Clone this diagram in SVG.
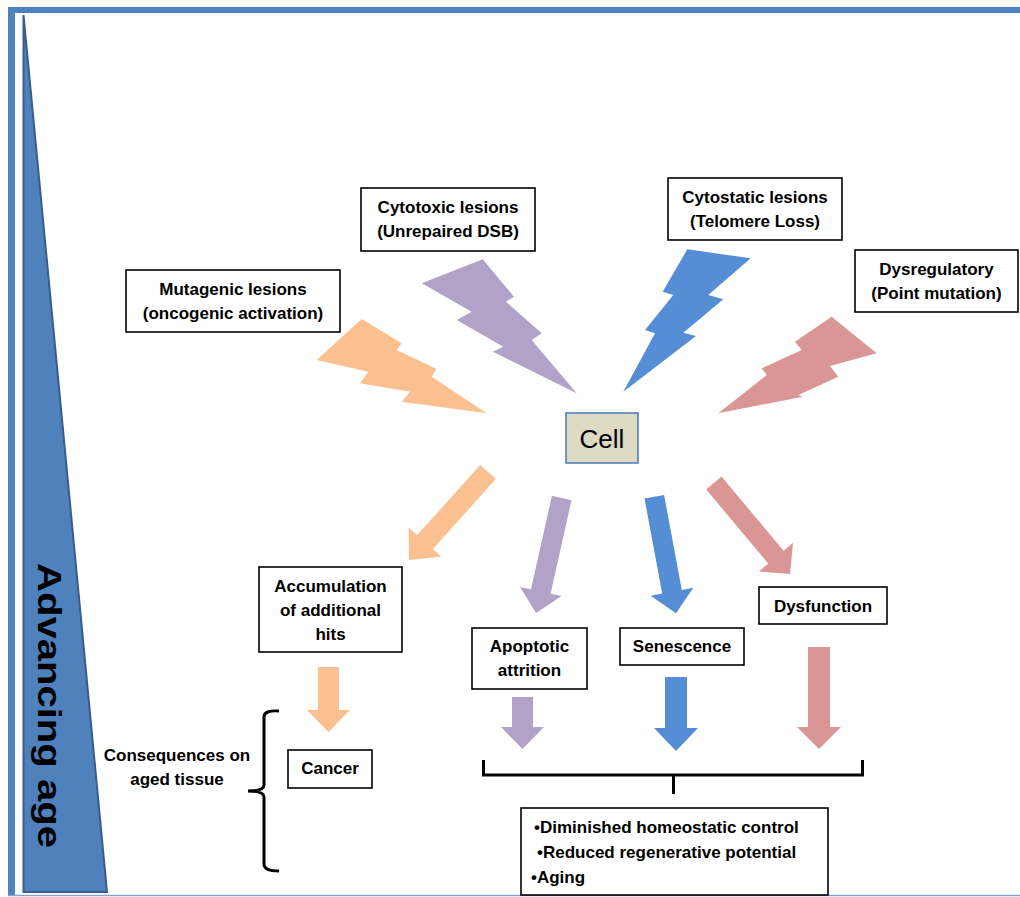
<svg xmlns="http://www.w3.org/2000/svg" width="1020" height="897" viewBox="0 0 1020 897">
<style>
.box{fill:#fff;stroke:#000;stroke-width:1.6}
.t{font-family:"Liberation Sans",Arial,sans-serif;font-size:17px;font-weight:bold;fill:#000;text-anchor:middle}
.tl{font-family:"Liberation Sans",Arial,sans-serif;font-size:17px;font-weight:bold;fill:#000}
.or{fill:#FAC090}.pu{fill:#B3A2C7}.bl{fill:#558ED5}.rd{fill:#D99694}
.br{fill:none;stroke:#000;stroke-width:3}
</style>
<rect width="1020" height="897" fill="#fff"/>
<g id="frame">
<rect x="8" y="7" width="1012" height="6" fill="#4F81BD"/>
<rect x="8" y="7" width="7" height="888" fill="#4F81BD"/>
<line x1="8" y1="895.5" x2="1020" y2="895.5" stroke="#7FA6D6" stroke-width="1.5"/>
</g>
<g id="age">
<polygon points="23.5,15 107,892 23.5,892" fill="#4F81BD" stroke="#385D8A" stroke-width="2"/>
<text transform="translate(38,563) rotate(90)" font-family="'Liberation Sans',Arial,sans-serif" font-size="34" font-weight="bold" fill="#000" textLength="285" lengthAdjust="spacingAndGlyphs">Advancing age</text>
</g>
<g id="bolts">
<polygon class="or" points="361.7,319 401.7,343.3 396.7,350 436.7,369 431.7,376.7 486.7,413.3 401.7,401.7 410,391.7 360,383.3 368.3,371.7 316.7,360"/>
<polygon class="pu" points="421.7,283.3 482.7,259.3 514,296.7 506,301.7 541.7,333.3 531.7,340 576.7,393.3 492.7,351.7 503.3,346.7 456.7,320 471.7,311.7"/>
<polygon class="bl" points="687.3,249.3 750.7,258.3 708.3,295 723.3,299.3 683.3,332.7 696,336 623.3,391.7 655,333.3 645,330 673.3,295 662.7,291.7"/>
<polygon class="rd" points="831.7,316.7 876.7,353.3 830,366 838.3,376.7 798.3,395 802.7,396.7 718.3,413.3 766.7,375 761.7,368.3 801.7,350 795,341.7"/>
</g>
<g id="connectors">
<polygon class="or" points="480.2,465 417.2,535.1 408.6,527.4 409,560 441.4,556.8 432.8,549.1 495.8,479"/>
<polygon class="pu" points="551.9,495.8 531,589.3 520,586.9 536,613 561.6,596.1 550.6,593.7 571.5,500.2"/>
<polygon class="bl" points="644.5,498.5 662.2,593.5 650.7,595.7 676,613.3 693.3,587.7 681.8,589.9 664.1,494.9"/>
<polygon class="rd" points="706.1,489.4 768.2,563.5 758.8,571.4 790,574 793,542.8 783.6,550.7 721.5,476.6"/>
<polygon class="or" points="318,667 339,667 339,710 350,710 328.5,732 307,710 318,710"/>
<polygon class="pu" points="512,697 533,697 533,727 544,727 522.5,749 501,727 512,727"/>
<polygon class="bl" points="665,677 687,677 687,728 698,728 676,751 654,728 665,728"/>
<polygon class="rd" points="808,647 830,647 830,727 841,727 819,749 797,727 808,727"/>
<path class="br" d="M483.5,760 V775 H862.5 V760 M673.5,775 V794"/>
<path class="br" d="M279,711 Q264,710 264,717 V785 Q264,791 248,791 Q264,791 264,797 V864 Q264,871 279,871"/>
</g>
<g id="mutagenic">
<rect class="box" x="126" y="270" width="214" height="62"/>
<text class="t" x="233" y="295">Mutagenic lesions</text>
<text class="t" x="233" y="319">(oncogenic activation)</text>
</g>
<g id="cytotoxic">
<rect class="box" x="361" y="188" width="174" height="63"/>
<text class="t" x="448" y="213">Cytotoxic lesions</text>
<text class="t" x="448" y="237">(Unrepaired DSB)</text>
</g>
<g id="cytostatic">
<rect class="box" x="668" y="178" width="174" height="62"/>
<text class="t" x="755" y="203">Cytostatic lesions</text>
<text class="t" x="755" y="227">(Telomere Loss)</text>
</g>
<g id="dysregulatory">
<rect class="box" x="855" y="250" width="163" height="62"/>
<text class="t" x="936.5" y="275">Dysregulatory</text>
<text class="t" x="936.5" y="299">(Point mutation)</text>
</g>
<g id="cell">
<rect x="566" y="413" width="72" height="50" fill="#DDD9C3" stroke="#4F81BD" stroke-width="1.6"/>
<text x="602" y="448" font-family="'Liberation Sans',Arial,sans-serif" font-size="26" fill="#000" text-anchor="middle">Cell</text>
</g>
<g id="accumulation">
<rect class="box" x="259" y="567" width="143" height="85"/>
<text class="t" x="330.5" y="592">Accumulation</text>
<text class="t" x="330.5" y="616">of additional</text>
<text class="t" x="330.5" y="640">hits</text>
</g>
<g id="apoptotic">
<rect class="box" x="472" y="628" width="115" height="61"/>
<text class="t" x="529.5" y="652">Apoptotic</text>
<text class="t" x="529.5" y="676">attrition</text>
</g>
<g id="senescence">
<rect class="box" x="620" y="628" width="124" height="37"/>
<text class="t" x="682" y="652">Senescence</text>
</g>
<g id="dysfunction">
<rect class="box" x="759" y="587" width="128" height="37"/>
<text class="t" x="823" y="612">Dysfunction</text>
</g>
<g id="cancer">
<rect class="box" x="288" y="750" width="84" height="38"/>
<text class="t" x="330" y="774">Cancer</text>
</g>
<g id="consequences">
<text class="t" x="177" y="761">Consequences on</text>
<text class="t" x="177" y="785">aged tissue</text>
</g>
<g id="outcome">
<rect class="box" x="521" y="808" width="307" height="87"/>
<text class="tl" x="534" y="833">•Diminished homeostatic control</text>
<text class="tl" x="537" y="858">•Reduced regenerative potential</text>
<text class="tl" x="531" y="883">•Aging</text>
</g>
</svg>
